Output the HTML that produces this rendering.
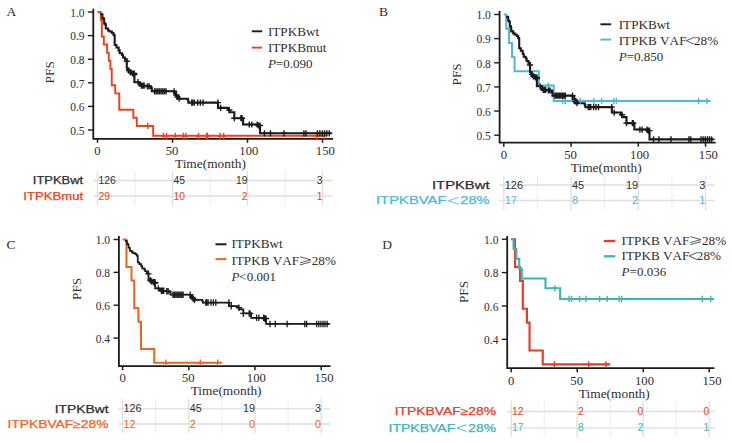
<!DOCTYPE html>
<html><head><meta charset="utf-8"><title>PFS Kaplan-Meier</title>
<style>html,body{margin:0;padding:0;background:#fff}body{width:732px;height:443px;overflow:hidden;font-family:"Liberation Sans",sans-serif}svg{display:block}</style>
</head><body>
<svg width="732" height="443" viewBox="0 0 732 443">
<rect width="732" height="443" fill="#fff"/>
<line x1="97.50" y1="171.0" x2="97.50" y2="205.5" stroke="#dedede" stroke-width="1.3"/>
<line x1="135.00" y1="171.0" x2="135.00" y2="205.5" stroke="#ebebeb" stroke-width="1.0"/>
<line x1="172.50" y1="171.0" x2="172.50" y2="205.5" stroke="#dedede" stroke-width="1.3"/>
<line x1="210.00" y1="171.0" x2="210.00" y2="205.5" stroke="#ebebeb" stroke-width="1.0"/>
<line x1="247.50" y1="171.0" x2="247.50" y2="205.5" stroke="#dedede" stroke-width="1.3"/>
<line x1="285.00" y1="171.0" x2="285.00" y2="205.5" stroke="#ebebeb" stroke-width="1.0"/>
<line x1="322.50" y1="171.0" x2="322.50" y2="205.5" stroke="#dedede" stroke-width="1.3"/>
<line x1="93.50" y1="180.5" x2="332.00" y2="180.5" stroke="#dedede" stroke-width="1.3"/>
<line x1="93.50" y1="196.0" x2="332.00" y2="196.0" stroke="#dedede" stroke-width="1.3"/>
<text x="32.80" y="184.40" font-family="Liberation Sans, sans-serif" font-size="10.5" fill="#2e2e2e" stroke="#2e2e2e" stroke-width="0.25" textLength="50.40" lengthAdjust="spacingAndGlyphs">ITPKBwt</text>
<text x="98.40" y="184.10" font-family="Liberation Sans, sans-serif" font-size="10.2" fill="#2e2e2e" textLength="17.25" lengthAdjust="spacingAndGlyphs">126</text>
<text x="173.40" y="184.10" font-family="Liberation Sans, sans-serif" font-size="10.2" fill="#2e2e2e" textLength="11.50" lengthAdjust="spacingAndGlyphs">45</text>
<text x="247.40" y="184.10" text-anchor="end" font-family="Liberation Sans, sans-serif" font-size="10.2" fill="#2e2e2e" textLength="11.50" lengthAdjust="spacingAndGlyphs">19</text>
<text x="322.40" y="184.10" text-anchor="end" font-family="Liberation Sans, sans-serif" font-size="10.2" fill="#2e2e2e" textLength="5.75" lengthAdjust="spacingAndGlyphs">3</text>
<text x="23.30" y="199.90" font-family="Liberation Sans, sans-serif" font-size="10.5" fill="#ec4319" stroke="#ec4319" stroke-width="0.25" textLength="59.90" lengthAdjust="spacingAndGlyphs">ITPKBmut</text>
<text x="98.40" y="199.60" font-family="Liberation Sans, sans-serif" font-size="10.2" fill="#ec4319" textLength="11.50" lengthAdjust="spacingAndGlyphs">29</text>
<text x="173.40" y="199.60" font-family="Liberation Sans, sans-serif" font-size="10.2" fill="#ec4319" textLength="11.50" lengthAdjust="spacingAndGlyphs">10</text>
<text x="247.40" y="199.60" text-anchor="end" font-family="Liberation Sans, sans-serif" font-size="10.2" fill="#ec4319" textLength="5.75" lengthAdjust="spacingAndGlyphs">2</text>
<text x="322.40" y="199.60" text-anchor="end" font-family="Liberation Sans, sans-serif" font-size="10.2" fill="#ec4319" textLength="5.75" lengthAdjust="spacingAndGlyphs">1</text>
<line x1="503.80" y1="175.5" x2="503.80" y2="210.5" stroke="#dedede" stroke-width="1.3"/>
<line x1="537.42" y1="175.5" x2="537.42" y2="210.5" stroke="#ebebeb" stroke-width="1.0"/>
<line x1="571.05" y1="175.5" x2="571.05" y2="210.5" stroke="#dedede" stroke-width="1.3"/>
<line x1="604.67" y1="175.5" x2="604.67" y2="210.5" stroke="#ebebeb" stroke-width="1.0"/>
<line x1="638.30" y1="175.5" x2="638.30" y2="210.5" stroke="#dedede" stroke-width="1.3"/>
<line x1="671.92" y1="175.5" x2="671.92" y2="210.5" stroke="#ebebeb" stroke-width="1.0"/>
<line x1="705.55" y1="175.5" x2="705.55" y2="210.5" stroke="#dedede" stroke-width="1.3"/>
<line x1="499.50" y1="185.0" x2="715.00" y2="185.0" stroke="#dedede" stroke-width="1.3"/>
<line x1="499.50" y1="200.5" x2="715.00" y2="200.5" stroke="#dedede" stroke-width="1.3"/>
<text x="432.00" y="188.90" font-family="Liberation Sans, sans-serif" font-size="10.5" fill="#2e2e2e" stroke="#2e2e2e" stroke-width="0.25" textLength="57.50" lengthAdjust="spacingAndGlyphs">ITPKBwt</text>
<text x="504.70" y="188.60" font-family="Liberation Sans, sans-serif" font-size="10.2" fill="#2e2e2e" textLength="18.30" lengthAdjust="spacingAndGlyphs">126</text>
<text x="571.95" y="188.60" font-family="Liberation Sans, sans-serif" font-size="10.2" fill="#2e2e2e" textLength="12.20" lengthAdjust="spacingAndGlyphs">45</text>
<text x="638.20" y="188.60" text-anchor="end" font-family="Liberation Sans, sans-serif" font-size="10.2" fill="#2e2e2e" textLength="12.20" lengthAdjust="spacingAndGlyphs">19</text>
<text x="705.45" y="188.60" text-anchor="end" font-family="Liberation Sans, sans-serif" font-size="10.2" fill="#2e2e2e" textLength="6.10" lengthAdjust="spacingAndGlyphs">3</text>
<text x="376.00" y="204.40" font-family="Liberation Sans, sans-serif" font-size="10.5" fill="#4cb9d6" stroke="#4cb9d6" stroke-width="0.25" textLength="70.47" lengthAdjust="spacingAndGlyphs">ITPKBVAF</text>
<path d="M458.38 197.40L448.41 200.80L458.38 204.20" fill="none" stroke="#4cb9d6" stroke-width="0.9"/>
<text x="460.32" y="204.40" font-family="Liberation Sans, sans-serif" font-size="10.5" fill="#4cb9d6" stroke="#4cb9d6" stroke-width="0.25" textLength="29.18" lengthAdjust="spacingAndGlyphs">28%</text>
<text x="504.70" y="204.10" font-family="Liberation Sans, sans-serif" font-size="10.2" fill="#4cb9d6" textLength="12.20" lengthAdjust="spacingAndGlyphs">17</text>
<text x="571.95" y="204.10" font-family="Liberation Sans, sans-serif" font-size="10.2" fill="#4cb9d6" textLength="6.10" lengthAdjust="spacingAndGlyphs">8</text>
<text x="638.20" y="204.10" text-anchor="end" font-family="Liberation Sans, sans-serif" font-size="10.2" fill="#4cb9d6" textLength="6.10" lengthAdjust="spacingAndGlyphs">2</text>
<text x="705.45" y="204.10" text-anchor="end" font-family="Liberation Sans, sans-serif" font-size="10.2" fill="#4cb9d6" textLength="6.10" lengthAdjust="spacingAndGlyphs">1</text>
<line x1="122.60" y1="399.0" x2="122.60" y2="433.0" stroke="#dedede" stroke-width="1.3"/>
<line x1="155.70" y1="399.0" x2="155.70" y2="433.0" stroke="#ebebeb" stroke-width="1.0"/>
<line x1="188.80" y1="399.0" x2="188.80" y2="433.0" stroke="#dedede" stroke-width="1.3"/>
<line x1="221.90" y1="399.0" x2="221.90" y2="433.0" stroke="#ebebeb" stroke-width="1.0"/>
<line x1="255.00" y1="399.0" x2="255.00" y2="433.0" stroke="#dedede" stroke-width="1.3"/>
<line x1="288.10" y1="399.0" x2="288.10" y2="433.0" stroke="#ebebeb" stroke-width="1.0"/>
<line x1="321.20" y1="399.0" x2="321.20" y2="433.0" stroke="#dedede" stroke-width="1.3"/>
<line x1="118.50" y1="408.8" x2="330.00" y2="408.8" stroke="#dedede" stroke-width="1.3"/>
<line x1="118.50" y1="424.0" x2="330.00" y2="424.0" stroke="#dedede" stroke-width="1.3"/>
<text x="54.75" y="412.65" font-family="Liberation Sans, sans-serif" font-size="10.5" fill="#2e2e2e" stroke="#2e2e2e" stroke-width="0.25" textLength="53.75" lengthAdjust="spacingAndGlyphs">ITPKBwt</text>
<text x="123.50" y="412.35" font-family="Liberation Sans, sans-serif" font-size="10.2" fill="#2e2e2e" textLength="18.00" lengthAdjust="spacingAndGlyphs">126</text>
<text x="189.70" y="412.35" font-family="Liberation Sans, sans-serif" font-size="10.2" fill="#2e2e2e" textLength="12.00" lengthAdjust="spacingAndGlyphs">45</text>
<text x="254.90" y="412.35" text-anchor="end" font-family="Liberation Sans, sans-serif" font-size="10.2" fill="#2e2e2e" textLength="12.00" lengthAdjust="spacingAndGlyphs">19</text>
<text x="321.10" y="412.35" text-anchor="end" font-family="Liberation Sans, sans-serif" font-size="10.2" fill="#2e2e2e" textLength="6.00" lengthAdjust="spacingAndGlyphs">3</text>
<text x="7.50" y="427.90" font-family="Liberation Sans, sans-serif" font-size="10.5" fill="#ec641e" stroke="#ec641e" stroke-width="0.25" textLength="101.00" lengthAdjust="spacingAndGlyphs">ITPKBVAF≥28%</text>
<text x="123.50" y="427.60" font-family="Liberation Sans, sans-serif" font-size="10.2" fill="#ec641e" textLength="12.00" lengthAdjust="spacingAndGlyphs">12</text>
<text x="189.70" y="427.60" font-family="Liberation Sans, sans-serif" font-size="10.2" fill="#ec641e" textLength="6.00" lengthAdjust="spacingAndGlyphs">2</text>
<text x="254.90" y="427.60" text-anchor="end" font-family="Liberation Sans, sans-serif" font-size="10.2" fill="#ec641e" textLength="6.00" lengthAdjust="spacingAndGlyphs">0</text>
<text x="321.10" y="427.60" text-anchor="end" font-family="Liberation Sans, sans-serif" font-size="10.2" fill="#ec641e" textLength="6.00" lengthAdjust="spacingAndGlyphs">0</text>
<line x1="511.20" y1="400.8" x2="511.20" y2="437.0" stroke="#dedede" stroke-width="1.3"/>
<line x1="544.20" y1="400.8" x2="544.20" y2="437.0" stroke="#ebebeb" stroke-width="1.0"/>
<line x1="577.20" y1="400.8" x2="577.20" y2="437.0" stroke="#dedede" stroke-width="1.3"/>
<line x1="610.20" y1="400.8" x2="610.20" y2="437.0" stroke="#ebebeb" stroke-width="1.0"/>
<line x1="643.20" y1="400.8" x2="643.20" y2="437.0" stroke="#dedede" stroke-width="1.3"/>
<line x1="676.20" y1="400.8" x2="676.20" y2="437.0" stroke="#ebebeb" stroke-width="1.0"/>
<line x1="709.20" y1="400.8" x2="709.20" y2="437.0" stroke="#dedede" stroke-width="1.3"/>
<line x1="507.00" y1="411.5" x2="715.25" y2="411.5" stroke="#dedede" stroke-width="1.3"/>
<line x1="507.00" y1="427.8" x2="715.25" y2="427.8" stroke="#dedede" stroke-width="1.3"/>
<text x="394.75" y="415.40" font-family="Liberation Sans, sans-serif" font-size="10.5" fill="#e63b24" stroke="#e63b24" stroke-width="0.25" textLength="101.25" lengthAdjust="spacingAndGlyphs">ITPKBVAF≥28%</text>
<text x="512.10" y="415.10" font-family="Liberation Sans, sans-serif" font-size="10.2" fill="#e63b24" textLength="11.40" lengthAdjust="spacingAndGlyphs">12</text>
<text x="578.10" y="415.10" font-family="Liberation Sans, sans-serif" font-size="10.2" fill="#e63b24" textLength="5.70" lengthAdjust="spacingAndGlyphs">2</text>
<text x="643.10" y="415.10" text-anchor="end" font-family="Liberation Sans, sans-serif" font-size="10.2" fill="#e63b24" textLength="5.70" lengthAdjust="spacingAndGlyphs">0</text>
<text x="709.10" y="415.10" text-anchor="end" font-family="Liberation Sans, sans-serif" font-size="10.2" fill="#e63b24" textLength="5.70" lengthAdjust="spacingAndGlyphs">0</text>
<text x="388.50" y="431.65" font-family="Liberation Sans, sans-serif" font-size="10.5" fill="#3db4b8" stroke="#3db4b8" stroke-width="0.25" textLength="66.75" lengthAdjust="spacingAndGlyphs">ITPKBVAF</text>
<path d="M466.53 424.65L457.09 428.05L466.53 431.45" fill="none" stroke="#3db4b8" stroke-width="0.9"/>
<text x="468.37" y="431.65" font-family="Liberation Sans, sans-serif" font-size="10.5" fill="#3db4b8" stroke="#3db4b8" stroke-width="0.25" textLength="27.63" lengthAdjust="spacingAndGlyphs">28%</text>
<text x="512.10" y="431.35" font-family="Liberation Sans, sans-serif" font-size="10.2" fill="#3db4b8" textLength="11.40" lengthAdjust="spacingAndGlyphs">17</text>
<text x="578.10" y="431.35" font-family="Liberation Sans, sans-serif" font-size="10.2" fill="#3db4b8" textLength="5.70" lengthAdjust="spacingAndGlyphs">8</text>
<text x="643.10" y="431.35" text-anchor="end" font-family="Liberation Sans, sans-serif" font-size="10.2" fill="#3db4b8" textLength="5.70" lengthAdjust="spacingAndGlyphs">2</text>
<text x="709.10" y="431.35" text-anchor="end" font-family="Liberation Sans, sans-serif" font-size="10.2" fill="#3db4b8" textLength="5.70" lengthAdjust="spacingAndGlyphs">1</text>
<path d="M93.30 8.80V138.80H333.00" fill="none" stroke="#1a1a1a" stroke-width="1.8" stroke-linejoin="miter"/>
<line x1="87.90" y1="12.00" x2="93.30" y2="12.00" stroke="#1a1a1a" stroke-width="1.4"/>
<text transform="translate(84.50 16.80) scale(0.85 1)" text-anchor="end" font-family="Liberation Serif, serif" font-size="13.5" fill="#2e2e2e">1.0</text>
<line x1="87.90" y1="35.60" x2="93.30" y2="35.60" stroke="#1a1a1a" stroke-width="1.4"/>
<text transform="translate(84.50 40.40) scale(0.85 1)" text-anchor="end" font-family="Liberation Serif, serif" font-size="13.5" fill="#2e2e2e">0.9</text>
<line x1="87.90" y1="59.20" x2="93.30" y2="59.20" stroke="#1a1a1a" stroke-width="1.4"/>
<text transform="translate(84.50 64.00) scale(0.85 1)" text-anchor="end" font-family="Liberation Serif, serif" font-size="13.5" fill="#2e2e2e">0.8</text>
<line x1="87.90" y1="82.80" x2="93.30" y2="82.80" stroke="#1a1a1a" stroke-width="1.4"/>
<text transform="translate(84.50 87.60) scale(0.85 1)" text-anchor="end" font-family="Liberation Serif, serif" font-size="13.5" fill="#2e2e2e">0.7</text>
<line x1="87.90" y1="106.40" x2="93.30" y2="106.40" stroke="#1a1a1a" stroke-width="1.4"/>
<text transform="translate(84.50 111.20) scale(0.85 1)" text-anchor="end" font-family="Liberation Serif, serif" font-size="13.5" fill="#2e2e2e">0.6</text>
<line x1="87.90" y1="130.00" x2="93.30" y2="130.00" stroke="#1a1a1a" stroke-width="1.4"/>
<text transform="translate(84.50 134.80) scale(0.85 1)" text-anchor="end" font-family="Liberation Serif, serif" font-size="13.5" fill="#2e2e2e">0.5</text>
<line x1="97.50" y1="138.80" x2="97.50" y2="142.80" stroke="#1a1a1a" stroke-width="1.5"/>
<text transform="translate(97.50 154.80) scale(0.94 1)" text-anchor="middle" font-family="Liberation Serif, serif" font-size="13.5" fill="#2e2e2e">0</text>
<line x1="172.50" y1="138.80" x2="172.50" y2="142.80" stroke="#1a1a1a" stroke-width="1.5"/>
<text transform="translate(172.00 154.80) scale(0.94 1)" text-anchor="middle" font-family="Liberation Serif, serif" font-size="13.5" fill="#2e2e2e">50</text>
<line x1="247.50" y1="138.80" x2="247.50" y2="142.80" stroke="#1a1a1a" stroke-width="1.5"/>
<text transform="translate(248.80 154.80) scale(0.94 1)" text-anchor="middle" font-family="Liberation Serif, serif" font-size="13.5" fill="#2e2e2e">100</text>
<line x1="322.50" y1="138.80" x2="322.50" y2="142.80" stroke="#1a1a1a" stroke-width="1.5"/>
<text transform="translate(325.30 154.80) scale(0.94 1)" text-anchor="middle" font-family="Liberation Serif, serif" font-size="13.5" fill="#2e2e2e">150</text>
<path d="M499.60 11.00V142.70H715.70" fill="none" stroke="#1a1a1a" stroke-width="1.8" stroke-linejoin="miter"/>
<line x1="494.20" y1="14.50" x2="499.60" y2="14.50" stroke="#1a1a1a" stroke-width="1.4"/>
<text transform="translate(490.80 19.30) scale(0.85 1)" text-anchor="end" font-family="Liberation Serif, serif" font-size="13.5" fill="#2e2e2e">1.0</text>
<line x1="494.20" y1="38.64" x2="499.60" y2="38.64" stroke="#1a1a1a" stroke-width="1.4"/>
<text transform="translate(490.80 43.44) scale(0.85 1)" text-anchor="end" font-family="Liberation Serif, serif" font-size="13.5" fill="#2e2e2e">0.9</text>
<line x1="494.20" y1="62.78" x2="499.60" y2="62.78" stroke="#1a1a1a" stroke-width="1.4"/>
<text transform="translate(490.80 67.58) scale(0.85 1)" text-anchor="end" font-family="Liberation Serif, serif" font-size="13.5" fill="#2e2e2e">0.8</text>
<line x1="494.20" y1="86.92" x2="499.60" y2="86.92" stroke="#1a1a1a" stroke-width="1.4"/>
<text transform="translate(490.80 91.72) scale(0.85 1)" text-anchor="end" font-family="Liberation Serif, serif" font-size="13.5" fill="#2e2e2e">0.7</text>
<line x1="494.20" y1="111.06" x2="499.60" y2="111.06" stroke="#1a1a1a" stroke-width="1.4"/>
<text transform="translate(490.80 115.86) scale(0.85 1)" text-anchor="end" font-family="Liberation Serif, serif" font-size="13.5" fill="#2e2e2e">0.6</text>
<line x1="494.20" y1="135.20" x2="499.60" y2="135.20" stroke="#1a1a1a" stroke-width="1.4"/>
<text transform="translate(490.80 140.00) scale(0.85 1)" text-anchor="end" font-family="Liberation Serif, serif" font-size="13.5" fill="#2e2e2e">0.5</text>
<line x1="503.80" y1="142.70" x2="503.80" y2="146.70" stroke="#1a1a1a" stroke-width="1.5"/>
<text transform="translate(503.80 159.00) scale(0.94 1)" text-anchor="middle" font-family="Liberation Serif, serif" font-size="13.5" fill="#2e2e2e">0</text>
<line x1="571.05" y1="142.70" x2="571.05" y2="146.70" stroke="#1a1a1a" stroke-width="1.5"/>
<text transform="translate(570.55 159.00) scale(0.94 1)" text-anchor="middle" font-family="Liberation Serif, serif" font-size="13.5" fill="#2e2e2e">50</text>
<line x1="638.30" y1="142.70" x2="638.30" y2="146.70" stroke="#1a1a1a" stroke-width="1.5"/>
<text transform="translate(639.60 159.00) scale(0.94 1)" text-anchor="middle" font-family="Liberation Serif, serif" font-size="13.5" fill="#2e2e2e">100</text>
<line x1="705.55" y1="142.70" x2="705.55" y2="146.70" stroke="#1a1a1a" stroke-width="1.5"/>
<text transform="translate(708.35 159.00) scale(0.94 1)" text-anchor="middle" font-family="Liberation Serif, serif" font-size="13.5" fill="#2e2e2e">150</text>
<path d="M118.90 236.00V366.20H330.50" fill="none" stroke="#1a1a1a" stroke-width="1.8" stroke-linejoin="miter"/>
<line x1="113.50" y1="239.50" x2="118.90" y2="239.50" stroke="#1a1a1a" stroke-width="1.4"/>
<text transform="translate(110.10 244.30) scale(0.85 1)" text-anchor="end" font-family="Liberation Serif, serif" font-size="13.5" fill="#2e2e2e">1.0</text>
<line x1="113.50" y1="272.36" x2="118.90" y2="272.36" stroke="#1a1a1a" stroke-width="1.4"/>
<text transform="translate(110.10 277.16) scale(0.85 1)" text-anchor="end" font-family="Liberation Serif, serif" font-size="13.5" fill="#2e2e2e">0.8</text>
<line x1="113.50" y1="305.22" x2="118.90" y2="305.22" stroke="#1a1a1a" stroke-width="1.4"/>
<text transform="translate(110.10 310.02) scale(0.85 1)" text-anchor="end" font-family="Liberation Serif, serif" font-size="13.5" fill="#2e2e2e">0.6</text>
<line x1="113.50" y1="338.08" x2="118.90" y2="338.08" stroke="#1a1a1a" stroke-width="1.4"/>
<text transform="translate(110.10 342.88) scale(0.85 1)" text-anchor="end" font-family="Liberation Serif, serif" font-size="13.5" fill="#2e2e2e">0.4</text>
<line x1="122.60" y1="366.20" x2="122.60" y2="370.20" stroke="#1a1a1a" stroke-width="1.5"/>
<text transform="translate(122.60 381.70) scale(0.94 1)" text-anchor="middle" font-family="Liberation Serif, serif" font-size="13.5" fill="#2e2e2e">0</text>
<line x1="188.80" y1="366.20" x2="188.80" y2="370.20" stroke="#1a1a1a" stroke-width="1.5"/>
<text transform="translate(188.30 381.70) scale(0.94 1)" text-anchor="middle" font-family="Liberation Serif, serif" font-size="13.5" fill="#2e2e2e">50</text>
<line x1="255.00" y1="366.20" x2="255.00" y2="370.20" stroke="#1a1a1a" stroke-width="1.5"/>
<text transform="translate(256.30 381.70) scale(0.94 1)" text-anchor="middle" font-family="Liberation Serif, serif" font-size="13.5" fill="#2e2e2e">100</text>
<line x1="321.20" y1="366.20" x2="321.20" y2="370.20" stroke="#1a1a1a" stroke-width="1.5"/>
<text transform="translate(324.00 381.70) scale(0.94 1)" text-anchor="middle" font-family="Liberation Serif, serif" font-size="13.5" fill="#2e2e2e">150</text>
<path d="M507.20 236.00V368.20H714.40" fill="none" stroke="#1a1a1a" stroke-width="1.8" stroke-linejoin="miter"/>
<line x1="501.80" y1="239.20" x2="507.20" y2="239.20" stroke="#1a1a1a" stroke-width="1.4"/>
<text transform="translate(498.40 244.00) scale(0.85 1)" text-anchor="end" font-family="Liberation Serif, serif" font-size="13.5" fill="#2e2e2e">1.0</text>
<line x1="501.80" y1="272.58" x2="507.20" y2="272.58" stroke="#1a1a1a" stroke-width="1.4"/>
<text transform="translate(498.40 277.38) scale(0.85 1)" text-anchor="end" font-family="Liberation Serif, serif" font-size="13.5" fill="#2e2e2e">0.8</text>
<line x1="501.80" y1="305.96" x2="507.20" y2="305.96" stroke="#1a1a1a" stroke-width="1.4"/>
<text transform="translate(498.40 310.76) scale(0.85 1)" text-anchor="end" font-family="Liberation Serif, serif" font-size="13.5" fill="#2e2e2e">0.6</text>
<line x1="501.80" y1="339.34" x2="507.20" y2="339.34" stroke="#1a1a1a" stroke-width="1.4"/>
<text transform="translate(498.40 344.14) scale(0.85 1)" text-anchor="end" font-family="Liberation Serif, serif" font-size="13.5" fill="#2e2e2e">0.4</text>
<line x1="511.20" y1="368.20" x2="511.20" y2="372.20" stroke="#1a1a1a" stroke-width="1.5"/>
<text transform="translate(511.20 384.60) scale(0.94 1)" text-anchor="middle" font-family="Liberation Serif, serif" font-size="13.5" fill="#2e2e2e">0</text>
<line x1="577.20" y1="368.20" x2="577.20" y2="372.20" stroke="#1a1a1a" stroke-width="1.5"/>
<text transform="translate(576.70 384.60) scale(0.94 1)" text-anchor="middle" font-family="Liberation Serif, serif" font-size="13.5" fill="#2e2e2e">50</text>
<line x1="643.20" y1="368.20" x2="643.20" y2="372.20" stroke="#1a1a1a" stroke-width="1.5"/>
<text transform="translate(644.50 384.60) scale(0.94 1)" text-anchor="middle" font-family="Liberation Serif, serif" font-size="13.5" fill="#2e2e2e">100</text>
<line x1="709.20" y1="368.20" x2="709.20" y2="372.20" stroke="#1a1a1a" stroke-width="1.5"/>
<text transform="translate(712.00 384.60) scale(0.94 1)" text-anchor="middle" font-family="Liberation Serif, serif" font-size="13.5" fill="#2e2e2e">150</text>
<path d="M97.50 12.00 H100.80 V20.14 H101.85 V36.41 H103.80 V44.55 H107.10 V52.69 H108.75 V60.83 H110.40 V68.97 H111.75 V85.24 H115.20 V93.38 H119.25 V109.66 H133.35 V117.79 H136.80 V125.93 H153.15 V135.78 H325.50" fill="none" stroke="#ec4319" stroke-width="1.95" stroke-linejoin="miter"/>
<path d="M101.20 13.30 H101.20 V14.30 H102.40 V18.10 H103.70 V19.50 H104.20 V23.60 H105.50 V25.00 H105.80 V28.50 H108.00 V30.50 H109.50 V31.50 H111.90 V33.00 H113.50 V35.00 H114.60 V37.00 H114.70 V45.00 H116.50 V47.50 H118.60 V50.40 H119.70 V53.30 H122.00 V55.00 H123.00 V57.50 H125.00 V59.50 H126.70 V61.30 H126.80 V68.50 H128.00 V70.50 H129.40 V72.40 H132.00 V73.50 H134.30 V74.60 H134.40 V82.20 H139.50 V84.00 H140.30 V85.70 H145.00 V86.30 H150.70 V88.00 H151.80 V91.30 H174.20 V93.00 H175.80 V95.00 H177.00 V97.00 H178.60 V98.70 H187.80 V100.50 H188.40 V102.60 H218.00 V107.85 H228.30 V110.00 H229.40 V112.30 H234.30 V118.20 H243.10 V124.50 H257.30 V125.50 H260.00 V133.30 H331.50" fill="none" stroke="#1a1a1a" stroke-width="2.1" stroke-linejoin="miter"/>
<path d="M147.75 122.83V129.03M144.65 125.93H150.85M163.50 132.68V138.88M160.40 135.78H166.60M166.50 132.68V138.88M163.40 135.78H169.60M175.35 132.68V138.88M172.25 135.78H178.45M183.45 132.68V138.88M180.35 135.78H186.55M185.85 132.68V138.88M182.75 135.78H188.95M198.45 132.68V138.88M195.35 135.78H201.55M206.55 132.68V138.88M203.45 135.78H209.65M207.45 132.68V138.88M204.35 135.78H210.55M220.05 132.68V138.88M216.95 135.78H223.15M223.65 132.68V138.88M220.55 135.78H226.75M316.50 132.68V138.88M313.40 135.78H319.60M324.00 132.68V138.88M320.90 135.78H327.10" fill="none" stroke="#ec4319" stroke-width="1.4"/>
<path d="M126.75 58.20V64.40M123.65 61.30H129.85M129.00 67.40V73.60M125.90 70.50H132.10M130.50 69.30V75.50M127.40 72.40H133.60M132.75 70.40V76.60M129.65 73.50H135.85M134.25 70.40V76.60M131.15 73.50H137.35M134.40 71.50V77.70M131.30 74.60H137.50M138.00 79.10V85.30M134.90 82.20H141.10M141.45 82.60V88.80M138.35 85.70H144.55M142.95 82.60V88.80M139.85 85.70H146.05M144.15 82.60V88.80M141.05 85.70H147.25M147.45 83.20V89.40M144.35 86.30H150.55M149.10 83.20V89.40M146.00 86.30H152.20M154.50 88.20V94.40M151.40 91.30H157.60M156.15 88.20V94.40M153.05 91.30H159.25M157.80 88.20V94.40M154.70 91.30H160.90M159.45 88.20V94.40M156.35 91.30H162.55M161.10 88.20V94.40M158.00 91.30H164.20M162.75 88.20V94.40M159.65 91.30H165.85M164.40 88.20V94.40M161.30 91.30H167.50M166.05 88.20V94.40M162.95 91.30H169.15M174.15 88.20V94.40M171.05 91.30H177.25M176.40 91.90V98.10M173.30 95.00H179.50M177.45 93.90V100.10M174.35 97.00H180.55M179.10 95.60V101.80M176.00 98.70H182.20M191.70 99.50V105.70M188.60 102.60H194.80M192.75 99.50V105.70M189.65 102.60H195.85M194.40 99.50V105.70M191.30 102.60H197.50M197.70 99.50V105.70M194.60 102.60H200.80M200.40 99.50V105.70M197.30 102.60H203.50M203.10 99.50V105.70M200.00 102.60H206.20M217.95 99.50V105.70M214.85 102.60H221.05M220.65 104.75V110.95M217.55 107.85H223.75M229.35 106.90V113.10M226.25 110.00H232.45M234.30 115.10V121.30M231.20 118.20H237.40M240.90 115.10V121.30M237.80 118.20H244.00M241.95 115.10V121.30M238.85 118.20H245.05M249.30 121.40V127.60M246.20 124.50H252.40M251.85 121.40V127.60M248.75 124.50H254.95M257.25 121.40V127.60M254.15 124.50H260.35M258.45 122.40V128.60M255.35 125.50H261.55M259.95 122.40V128.60M256.85 125.50H263.05M264.45 130.20V136.40M261.35 133.30H267.55M270.45 130.20V136.40M267.35 133.30H273.55M283.95 130.20V136.40M280.85 133.30H287.05M303.90 130.20V136.40M300.80 133.30H307.00M306.00 130.20V136.40M302.90 133.30H309.10M317.40 130.20V136.40M314.30 133.30H320.50M319.80 130.20V136.40M316.70 133.30H322.90M322.20 130.20V136.40M319.10 133.30H325.30M324.60 130.20V136.40M321.50 133.30H327.70M326.85 130.20V136.40M323.75 133.30H329.95M329.25 130.20V136.40M326.15 133.30H332.35" fill="none" stroke="#1a1a1a" stroke-width="1.4"/>
<path d="M503.80 14.50 H506.22 V28.70 H509.05 V42.90 H512.00 V57.10 H514.56 V71.30 H538.77 V85.50 H553.70 V100.92 H710.53" fill="none" stroke="#4cb9d6" stroke-width="2.0" stroke-linejoin="miter"/>
<path d="M507.12 15.85 H507.12 V16.85 H508.19 V20.74 H509.36 V22.17 H509.81 V26.37 H510.97 V27.80 H511.24 V31.38 H513.22 V33.42 H514.56 V34.45 H516.71 V35.98 H518.15 V38.03 H519.13 V40.07 H519.22 V48.26 H520.84 V50.81 H522.72 V53.78 H523.71 V56.75 H525.77 V58.48 H526.66 V61.04 H528.46 V63.09 H529.98 V64.93 H530.07 V72.29 H531.15 V74.34 H532.40 V76.28 H534.74 V77.41 H536.80 V78.53 H536.89 V86.31 H541.46 V88.15 H542.18 V89.89 H546.39 V90.50 H551.50 V92.24 H552.49 V95.61 H572.57 V97.35 H574.01 V99.40 H575.09 V101.44 H576.52 V103.18 H584.77 V105.03 H585.31 V107.17 H611.85 V112.54 H621.08 V114.74 H622.07 V117.10 H626.46 V123.13 H634.35 V129.57 H647.09 V130.60 H649.51 V139.33 H713.62" fill="none" stroke="#1a1a1a" stroke-width="2.1" stroke-linejoin="miter"/>
<path d="M548.19 82.40V88.60M545.09 85.50H551.29M562.71 97.82V104.02M559.61 100.92H565.81M565.27 97.82V104.02M562.17 100.92H568.37M573.47 97.82V104.02M570.37 100.92H576.57M580.06 97.82V104.02M576.96 100.92H583.16M593.91 97.82V104.02M590.81 100.92H597.01M601.58 97.82V104.02M598.48 100.92H604.68M613.82 97.82V104.02M610.72 100.92H616.92M616.38 97.82V104.02M613.28 100.92H619.48M698.56 97.82V104.02M695.46 100.92H701.66M707.03 97.82V104.02M703.93 100.92H710.13" fill="none" stroke="#4cb9d6" stroke-width="1.4"/>
<path d="M530.03 61.83V68.03M526.93 64.93H533.13M532.04 71.24V77.44M528.94 74.34H535.14M533.39 73.18V79.38M530.29 76.28H536.49M535.41 74.31V80.51M532.31 77.41H538.51M536.75 74.31V80.51M533.65 77.41H539.85M536.89 75.43V81.63M533.79 78.53H539.99M540.12 83.21V89.41M537.01 86.31H543.22M543.21 86.79V92.99M540.11 89.89H546.31M544.55 86.79V92.99M541.45 89.89H547.65M545.63 86.79V92.99M542.53 89.89H548.73M548.59 87.40V93.60M545.49 90.50H551.69M550.07 87.40V93.60M546.97 90.50H553.17M554.91 92.51V98.71M551.81 95.61H558.01M556.39 92.51V98.71M553.29 95.61H559.49M557.87 92.51V98.71M554.77 95.61H560.97M559.35 92.51V98.71M556.25 95.61H562.45M560.83 92.51V98.71M557.73 95.61H563.93M562.31 92.51V98.71M559.21 95.61H565.41M563.79 92.51V98.71M560.69 95.61H566.89M565.27 92.51V98.71M562.17 95.61H568.37M572.53 92.51V98.71M569.43 95.61H575.63M574.55 96.30V102.50M571.45 99.40H577.65M575.49 98.34V104.54M572.39 101.44H578.59M576.97 100.08V106.28M573.87 103.18H580.07M588.27 104.07V110.27M585.17 107.17H591.37M589.21 104.07V110.27M586.11 107.17H592.31M590.69 104.07V110.27M587.59 107.17H593.79M593.65 104.07V110.27M590.55 107.17H596.75M596.07 104.07V110.27M592.97 107.17H599.17M598.49 104.07V110.27M595.39 107.17H601.59M611.80 104.07V110.27M608.70 107.17H614.90M614.22 109.44V115.64M611.12 112.54H617.32M622.03 111.64V117.84M618.93 114.74H625.13M626.46 120.03V126.23M623.36 123.13H629.56M632.38 120.03V126.23M629.28 123.13H635.48M633.32 120.03V126.23M630.22 123.13H636.42M639.91 126.47V132.67M636.81 129.57H643.01M642.20 126.47V132.67M639.10 129.57H645.30M647.04 126.47V132.67M643.94 129.57H650.14M648.12 127.50V133.70M645.02 130.60H651.22M649.46 127.50V133.70M646.36 130.60H652.56M653.50 136.23V142.43M650.40 139.33H656.60M658.88 136.23V142.43M655.78 139.33H661.98M670.98 136.23V142.43M667.88 139.33H674.08M688.87 136.23V142.43M685.77 139.33H691.97M690.75 136.23V142.43M687.65 139.33H693.86M700.98 136.23V142.43M697.88 139.33H704.08M703.13 136.23V142.43M700.03 139.33H706.23M705.28 136.23V142.43M702.18 139.33H708.38M707.43 136.23V142.43M704.33 139.33H710.53M709.45 136.23V142.43M706.35 139.33H712.55M711.60 136.23V142.43M708.50 139.33H714.70" fill="none" stroke="#1a1a1a" stroke-width="1.4"/>
<path d="M122.60 239.50 H126.44 V266.88 H131.47 V280.57 H134.25 V307.96 H138.36 V321.65 H141.00 V349.03 H154.24 V362.73 H221.90" fill="none" stroke="#ec641e" stroke-width="2.0" stroke-linejoin="miter"/>
<path d="M125.87 240.10 H125.87 V241.10 H126.93 V243.75 H128.07 V244.72 H128.51 V247.58 H129.66 V248.55 H129.93 V250.99 H131.87 V252.38 H133.19 V253.08 H135.31 V254.12 H136.72 V255.51 H137.69 V256.90 H137.78 V262.47 H139.37 V264.21 H141.22 V266.23 H142.20 V268.25 H144.23 V269.44 H145.11 V271.18 H146.87 V272.57 H148.37 V273.82 H148.46 V278.83 H149.52 V280.23 H150.76 V281.55 H153.05 V282.32 H155.08 V283.08 H155.17 V288.37 H159.67 V289.63 H160.38 V290.81 H164.53 V291.23 H169.56 V292.41 H170.53 V294.71 H190.30 V295.89 H191.71 V297.28 H192.77 V298.68 H194.18 V299.86 H202.30 V301.11 H202.83 V302.57 H228.96 V306.23 H238.05 V307.73 H239.02 V309.33 H243.35 V313.44 H251.12 V317.82 H263.65 V318.52 H266.03 V323.95 H329.14" fill="none" stroke="#1a1a1a" stroke-width="1.75" stroke-linejoin="miter"/>
<path d="M165.89 359.62V365.83M162.79 362.73H168.99M200.32 359.62V365.83M197.22 362.73H203.42M217.66 359.62V365.83M214.56 362.73H220.76" fill="none" stroke="#ec641e" stroke-width="1.4"/>
<path d="M148.42 270.62V277.02M145.22 273.82H151.62M150.40 277.03V283.43M147.20 280.23H153.60M151.73 278.35V284.75M148.53 281.55H154.93M153.71 279.12V285.52M150.51 282.32H156.91M155.04 279.12V285.52M151.84 282.32H158.24M155.17 279.88V286.28M151.97 283.08H158.37M158.35 285.17V291.57M155.15 288.37H161.55M161.39 287.61V294.01M158.19 290.81H164.59M162.72 287.61V294.01M159.52 290.81H165.92M163.78 287.61V294.01M160.58 290.81H166.98M166.69 288.03V294.43M163.49 291.23H169.89M168.15 288.03V294.43M164.95 291.23H171.35M172.91 291.51V297.91M169.71 294.71H176.11M174.37 291.51V297.91M171.17 294.71H177.57M175.82 291.51V297.91M172.62 294.71H179.02M177.28 291.51V297.91M174.08 294.71H180.48M178.74 291.51V297.91M175.54 294.71H181.94M180.19 291.51V297.91M176.99 294.71H183.39M181.65 291.51V297.91M178.45 294.71H184.85M183.11 291.51V297.91M179.91 294.71H186.31M190.26 291.51V297.91M187.06 294.71H193.46M192.24 294.08V300.48M189.04 297.28H195.44M193.17 295.48V301.88M189.97 298.68H196.37M194.63 296.66V303.06M191.43 299.86H197.83M205.75 299.37V305.77M202.55 302.57H208.95M206.67 299.37V305.77M203.47 302.57H209.87M208.13 299.37V305.77M204.93 302.57H211.33M211.04 299.37V305.77M207.84 302.57H214.24M213.43 299.37V305.77M210.23 302.57H216.63M215.81 299.37V305.77M212.61 302.57H219.01M228.92 299.37V305.77M225.72 302.57H232.12M231.30 303.03V309.43M228.10 306.23H234.50M238.98 304.53V310.93M235.78 307.73H242.18M243.35 310.24V316.63M240.15 313.44H246.55M249.17 310.24V316.63M245.97 313.44H252.37M250.10 310.24V316.63M246.90 313.44H253.30M256.59 314.62V321.02M253.39 317.82H259.79M258.84 314.62V321.02M255.64 317.82H262.04M263.61 314.62V321.02M260.41 317.82H266.81M264.67 315.32V321.72M261.47 318.52H267.87M265.99 315.32V321.72M262.79 318.52H269.19M269.96 320.75V327.15M266.76 323.95H273.16M275.26 320.75V327.15M272.06 323.95H278.46M287.17 320.75V327.15M283.97 323.95H290.37M304.78 320.75V327.15M301.58 323.95H307.98M306.64 320.75V327.15M303.44 323.95H309.84M316.70 320.75V327.15M313.50 323.95H319.90M318.82 320.75V327.15M315.62 323.95H322.02M320.94 320.75V327.15M317.74 323.95H324.14M323.05 320.75V327.15M319.85 323.95H326.25M325.04 320.75V327.15M321.84 323.95H328.24M327.16 320.75V327.15M323.96 323.95H330.36" fill="none" stroke="#1a1a1a" stroke-width="1.3"/>
<path d="M511.20 239.20 H515.03 V267.02 H520.04 V280.93 H522.82 V308.74 H526.91 V322.65 H529.55 V350.47 H542.75 V364.38 H610.20" fill="none" stroke="#e63b24" stroke-width="2.15" stroke-linejoin="miter"/>
<path d="M511.20 239.20 H513.58 V249.02 H516.35 V258.84 H519.25 V268.65 H521.76 V278.47 H545.52 V288.29 H560.17 V298.95 H714.08" fill="none" stroke="#3db4b8" stroke-width="2.15" stroke-linejoin="miter"/>
<path d="M554.36 361.27V367.48M551.26 364.38H557.46M588.68 361.27V367.48M585.58 364.38H591.78M605.98 361.27V367.48M602.88 364.38H609.08" fill="none" stroke="#e63b24" stroke-width="1.4"/>
<path d="M554.76 285.19V291.39M551.66 288.29H557.86M569.02 295.85V302.05M565.92 298.95H572.12M571.52 295.85V302.05M568.42 298.95H574.62M579.58 295.85V302.05M576.48 298.95H582.68M586.04 295.85V302.05M582.94 298.95H589.14M599.64 295.85V302.05M596.54 298.95H602.74M607.16 295.85V302.05M604.06 298.95H610.26M619.18 295.85V302.05M616.08 298.95H622.28M621.68 295.85V302.05M618.58 298.95H624.78M702.34 295.85V302.05M699.24 298.95H705.44M710.65 295.85V302.05M707.55 298.95H713.75" fill="none" stroke="#3db4b8" stroke-width="1.4"/>
<text x="6.60" y="15.80" text-anchor="start" font-family="Liberation Serif, serif" font-size="13.5" fill="#2e2e2e" >A</text>
<text x="379.00" y="15.80" text-anchor="start" font-family="Liberation Serif, serif" font-size="13.5" fill="#2e2e2e" >B</text>
<text x="6.60" y="248.60" text-anchor="start" font-family="Liberation Serif, serif" font-size="13.5" fill="#2e2e2e" >C</text>
<text x="382.20" y="248.60" text-anchor="start" font-family="Liberation Serif, serif" font-size="13.5" fill="#2e2e2e" >D</text>
<text transform="translate(54.4 72.3) rotate(-90)" text-anchor="middle" font-family="Liberation Serif, serif" font-size="13.3" fill="#2e2e2e">PFS</text>
<text transform="translate(461.0 74.4) rotate(-90)" text-anchor="middle" font-family="Liberation Serif, serif" font-size="13.3" fill="#2e2e2e">PFS</text>
<text transform="translate(80.6 288.9) rotate(-90)" text-anchor="middle" font-family="Liberation Serif, serif" font-size="13.3" fill="#2e2e2e">PFS</text>
<text transform="translate(468.3 292.0) rotate(-90)" text-anchor="middle" font-family="Liberation Serif, serif" font-size="13.3" fill="#2e2e2e">PFS</text>
<text x="210.40" y="168.30" text-anchor="middle" font-family="Liberation Serif, serif" font-size="13.4" fill="#2e2e2e" >Time(month)</text>
<text x="606.20" y="171.50" text-anchor="middle" font-family="Liberation Serif, serif" font-size="13.4" fill="#2e2e2e" >Time(month)</text>
<text x="226.10" y="395.20" text-anchor="middle" font-family="Liberation Serif, serif" font-size="13.4" fill="#2e2e2e" >Time(month)</text>
<text x="614.30" y="398.20" text-anchor="middle" font-family="Liberation Serif, serif" font-size="13.4" fill="#2e2e2e" >Time(month)</text>
<line x1="251.8" y1="31.3" x2="262.2" y2="31.3" stroke="#1a1a1a" stroke-width="1.9"/>
<text x="267.90" y="36.40" text-anchor="start" font-family="Liberation Serif, serif" font-size="13.2" fill="#2e2e2e" style="font-kerning:none">ITPKBwt</text>
<line x1="251.8" y1="47.6" x2="262.2" y2="47.6" stroke="#ec4319" stroke-width="1.9"/>
<text x="267.90" y="52.20" text-anchor="start" font-family="Liberation Serif, serif" font-size="13.2" fill="#2e2e2e" style="font-kerning:none">ITPKBmut</text>
<text x="267.90" y="68.30" text-anchor="start" font-family="Liberation Serif, serif" font-size="13" fill="#2e2e2e" ><tspan font-style="italic">P</tspan>=0.090</text>
<line x1="600.4" y1="24.3" x2="611.2" y2="24.3" stroke="#1a1a1a" stroke-width="1.9"/>
<text x="618.70" y="28.50" text-anchor="start" font-family="Liberation Serif, serif" font-size="13.2" fill="#2e2e2e" style="font-kerning:none">ITPKBwt</text>
<line x1="600.4" y1="39.6" x2="611.2" y2="39.6" stroke="#4cb9d6" stroke-width="1.9"/>
<text x="618.70" y="44.80" text-anchor="start" font-family="Liberation Serif, serif" font-size="13.2" fill="#2e2e2e" style="font-kerning:none">ITPKB VAF</text>
<path d="M694.14 37.20L686.34 40.70L694.14 44.20" fill="none" stroke="#2e2e2e" stroke-width="0.8"/>
<text x="693.94" y="44.80" text-anchor="start" font-family="Liberation Serif, serif" font-size="13.2" fill="#2e2e2e" style="font-kerning:none">28%</text>
<text x="618.70" y="61.00" text-anchor="start" font-family="Liberation Serif, serif" font-size="13" fill="#2e2e2e" ><tspan font-style="italic">P</tspan>=0.850</text>
<line x1="215.5" y1="244.3" x2="226.4" y2="244.3" stroke="#1a1a1a" stroke-width="2.0"/>
<text x="231.40" y="248.20" text-anchor="start" font-family="Liberation Serif, serif" font-size="13.2" fill="#2e2e2e" style="font-kerning:none">ITPKBwt</text>
<line x1="215.5" y1="259.1" x2="226.4" y2="259.1" stroke="#ec641e" stroke-width="2.0"/>
<text x="231.40" y="264.80" text-anchor="start" font-family="Liberation Serif, serif" font-size="13.2" fill="#2e2e2e" style="font-kerning:none">ITPKB VAF</text>
<path d="M300.00 256.80L310.78 259.80L300.00 262.80M300.00 264.90L310.78 261.90" fill="none" stroke="#2e2e2e" stroke-width="0.8"/>
<text x="311.78" y="264.80" text-anchor="start" font-family="Liberation Serif, serif" font-size="13.2" fill="#2e2e2e" style="font-kerning:none">28%</text>
<text x="231.40" y="280.70" text-anchor="start" font-family="Liberation Serif, serif" font-size="13" fill="#2e2e2e" ><tspan font-style="italic">P</tspan>&lt;0.001</text>
<line x1="603.9" y1="241.0" x2="615.3" y2="241.0" stroke="#e63b24" stroke-width="2.3"/>
<text x="621.60" y="244.60" text-anchor="start" font-family="Liberation Serif, serif" font-size="13.2" fill="#2e2e2e" style="font-kerning:none">ITPKB VAF</text>
<path d="M690.20 236.60L700.98 239.60L690.20 242.60M690.20 244.70L700.98 241.70" fill="none" stroke="#2e2e2e" stroke-width="0.8"/>
<text x="701.98" y="244.60" text-anchor="start" font-family="Liberation Serif, serif" font-size="13.2" fill="#2e2e2e" style="font-kerning:none">28%</text>
<line x1="603.9" y1="256.3" x2="615.3" y2="256.3" stroke="#3db4b8" stroke-width="2.3"/>
<text x="621.60" y="260.10" text-anchor="start" font-family="Liberation Serif, serif" font-size="13.2" fill="#2e2e2e" style="font-kerning:none">ITPKB VAF</text>
<path d="M697.04 252.50L689.24 256.00L697.04 259.50" fill="none" stroke="#2e2e2e" stroke-width="0.8"/>
<text x="696.84" y="260.10" text-anchor="start" font-family="Liberation Serif, serif" font-size="13.2" fill="#2e2e2e" style="font-kerning:none">28%</text>
<text x="621.60" y="275.80" text-anchor="start" font-family="Liberation Serif, serif" font-size="13" fill="#2e2e2e" ><tspan font-style="italic">P</tspan>=0.036</text>
</svg>
</body></html>
